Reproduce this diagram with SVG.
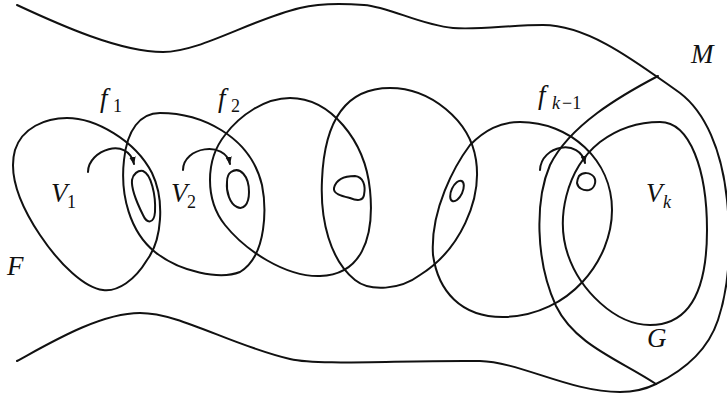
<svg xmlns="http://www.w3.org/2000/svg" width="727" height="399" viewBox="0 0 727 399">
<defs>
<style>
.c{fill:none;stroke:#111;stroke-width:2;stroke-linecap:round;stroke-linejoin:round}
.t{font-family:"Liberation Serif","DejaVu Serif",serif;font-style:italic;fill:#111}
.m{font-size:27px}
.s{font-size:18px;font-style:normal}
.sk{font-size:18px}
</style>
<marker id="ah" viewBox="0 0 10 10" refX="9" refY="5" markerWidth="8" markerHeight="8" markerUnits="userSpaceOnUse" orient="auto">
<path d="M0,1 L10,5 L0,9 Z" fill="#111"/>
</marker>
</defs>
<rect width="727" height="399" fill="#fff"/>

<g id="M">
<path class="c" d="M17,5 C60,25 120,52 163,52 C200,52 250,20 300,8 C320,3 340,3 364,5 C390,7 420,25 453,28 C480,30 510,25 543,25 C590,25 640,65 680,93 C705,112 722,150 727,200 C732,250 728,290 718,320 C708,350 685,370 656,384"/>
<path class="c" d="M17,361 C50,343 100,313 140,313 C180,313 230,345 290,359 C320,366 400,360 480,361 C520,362 570,392 620,392 C635,392 648,388 656,384"/>
<text class="t m" x="691" y="63">M</text>
</g>

<g id="F"><text class="t m" x="7" y="275">F</text></g>

<g id="G">
<path class="c" d="M658,76 C620,96 570,125 550,165 C535,200 535,260 556,306 C575,345 620,360 656,384"/>
<text class="t m" x="647" y="347">G</text>
</g>

<g id="V1">
<path class="c" d="M67,118 C95,118 135,140 152,173 C165,200 162,240 147,260 C135,280 118,292 103,290 C85,288 60,265 40,235 C20,205 8,175 15,150 C22,128 45,118 67,118 Z"/>
<text class="t m" x="51" y="202">V</text><text class="t s" x="67" y="208">1</text>
</g>

<g id="U1">
<path class="c" d="M160,113 C200,113 250,135 262,185 C266,205 268,255 240,272 C220,280 180,272 155,252 C130,232 120,195 124,160 C127,130 140,113 160,113 Z"/>
<path class="c" d="M143,171 C151,174 156,195 155,212 C154,224 147,224 143,215 C138,205 131,190 132,180 C133,174 138,170 143,171 Z"/>
<text class="t m" x="171" y="202">V</text><text class="t s" x="187" y="208">2</text>
</g>

<g id="U2">
<path class="c" d="M290,98 C330,98 365,140 370,190 C375,240 360,275 320,276 C285,277 245,250 225,225 C205,200 205,160 225,135 C240,115 265,98 290,98 Z"/>
<path class="c" d="M231,172 C240,166 249,176 249,192 C249,205 243,210 237,207 C230,204 226,192 227,182 C227,177 228,174 231,172 Z"/>
</g>

<g id="U3">
<path class="c" d="M390,88 C430,88 470,120 476,160 C482,200 460,250 420,275 C400,290 370,292 355,280 C330,260 320,220 322,180 C324,130 340,88 390,88 Z"/>
<path class="c" d="M334,188 C336,180 343,176 355,176 C363,177 366,185 364,195 C363,201 357,201 350,198 C342,196 333,194 334,188 Z"/>
</g>

<g id="U4">
<path class="c" d="M520,122 C570,122 612,160 612,210 C612,260 570,315 505,317 C460,318 438,290 433,255 C430,210 455,165 470,145 C485,130 500,122 520,122 Z"/>
<ellipse class="c" cx="457" cy="191" rx="5.5" ry="11" transform="rotate(25 457 191)"/>
<path class="c" d="M579,176 C583,172 590,172 594,177 C597,182 594,189 589,190 C583,191 578,188 577,183 C577,180 578,178 579,176 Z"/>
</g>

<g id="Vk">
<path class="c" d="M660,122 C690,122 707,170 707,230 C707,290 690,325 650,325 C615,325 580,290 568,255 C556,220 565,170 600,142 C620,127 640,122 660,122 Z"/>
<text class="t m" x="646" y="202">V</text><text class="t sk" x="663" y="208">k</text>
</g>

<g id="connectors">
<path class="c" d="M88,172 C88,150 128,136 134,164" marker-end="url(#ah)"/>
<path class="c" d="M183,170 C183,147 225,140 230,164" marker-end="url(#ah)"/>
<path class="c" d="M540,170 C541,145 580,138 585,163" marker-end="url(#ah)"/>
<text class="t m" x="100" y="107">f</text><text class="t s" x="113" y="112">1</text>
<text class="t m" x="218" y="107">f</text><text class="t s" x="231" y="112">2</text>
<text class="t m" x="538" y="104">f</text><text class="t sk" x="552" y="109">k</text><text class="t s" x="562" y="109">−1</text>
</g>
</svg>
